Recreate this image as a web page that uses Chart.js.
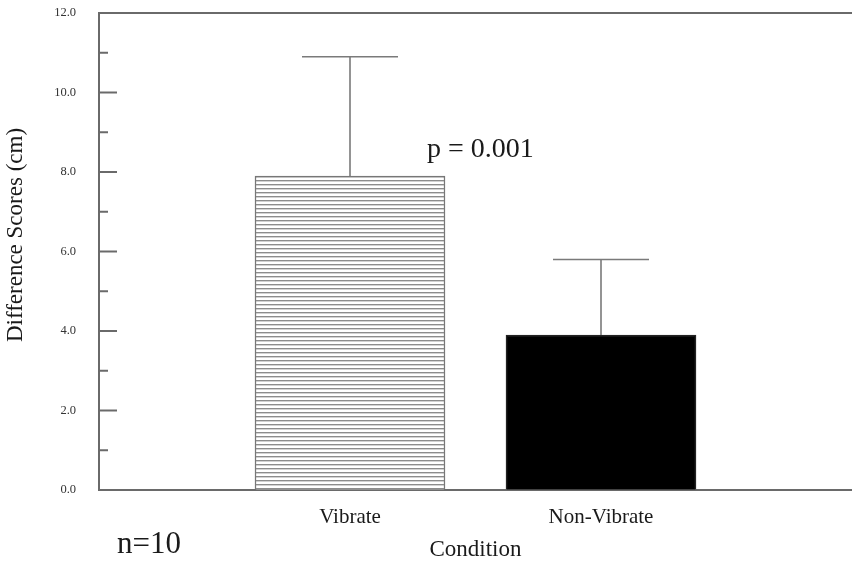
<!DOCTYPE html>
<html>
<head>
<meta charset="utf-8">
<script src="https://cdn.jsdelivr.net/npm/chart.js@4.4.1/dist/chart.umd.min.js"></script>
<style>
  html, body { margin: 0; padding: 0; background: #fff; overflow: hidden; }
  #wrap { width: 852px; height: 564px; position: relative; }
</style>
</head>
<body>
<div id="wrap"><canvas id="chart"></canvas></div>
<script>
// data (empty slots keep the bars where the original put them)
const conditions = ['', 'Vibrate', 'Non-Vibrate', ''];
const meanScores = [null, 7.9, 3.9, null];
const sdScores = [null, 3.0, 1.9, null];
const yMin = 0;
const yMax = 12;
const yStep = 1;
const sampleNote = 'n=10';
const pNote = 'p = 0.001';

const serif = "'Liberation Serif', 'Times New Roman', serif";
const axisGray = '#6a6a6a';
const ctxt = document.getElementById('chart').getContext('2d');

function makeHatch() {
    let tile = document.createElement('canvas');
    tile.width = 8;
    tile.height = 4;
    let g = tile.getContext('2d');
    g.fillStyle = '#ffffff';
    g.fillRect(0, 0, 8, 4);
    g.fillStyle = '#8c8c8c';
    g.fillRect(0, 0, 8, 1);
    g.fillStyle = '#d2d2d2';
    g.fillRect(0, 1, 8, 1);
    return ctxt.createPattern(tile, 'repeat');
}

function noEdgePadding(scale) {
    scale.paddingTop = 0;
    scale.paddingBottom = 0;
    scale.paddingLeft = 0;
    scale.paddingRight = 0;
}

const extras = {
    id: 'extras',
    afterDatasetsDraw(chart) {
        const ctx = chart.ctx;
        const xs = chart.scales.x;
        const ys = chart.scales.y;
        const area = chart.chartArea;
        ctx.save();

        // error bars, upper half only
        ctx.strokeStyle = '#7a7a7a';
        ctx.lineWidth = 1.6;
        meanScores.forEach((m, i) => {
            if (m === null) return;
            const x = xs.getPixelForValue(i);
            const yBar = ys.getPixelForValue(m);
            const yTop = ys.getPixelForValue(m + sdScores[i]);
            ctx.beginPath();
            ctx.moveTo(x, yBar);
            ctx.lineTo(x, yTop);
            ctx.moveTo(x - 48, yTop);
            ctx.lineTo(x + 48, yTop);
            ctx.stroke();
        });

        // inside tick marks, long on labelled values
        ctx.strokeStyle = axisGray;
        ctx.lineWidth = 2;
        ys.ticks.forEach((t) => {
            const y = ys.getPixelForValue(t.value);
            const len = t.value % 2 === 0 ? 18 : 9;
            ctx.beginPath();
            ctx.moveTo(area.left, y);
            ctx.lineTo(area.left + len, y);
            ctx.stroke();
        });

        // top frame line
        ctx.beginPath();
        ctx.moveTo(area.left, area.top);
        ctx.lineTo(chart.width, area.top);
        ctx.stroke();
        ctx.restore();
    },
    afterDraw(chart) {
        const ctx = chart.ctx;
        ctx.save();
        ctx.fillStyle = '#1a1a1a';
        ctx.textBaseline = 'alphabetic';

        ctx.font = '28px ' + serif;
        ctx.textAlign = 'left';
        ctx.fillText(pNote, 427, 157);

        ctx.font = '31px ' + serif;
        ctx.fillText(sampleNote, 117, 553);

        ctx.translate(16, 235);
        ctx.rotate(-Math.PI / 2);
        ctx.textAlign = 'center';
        ctx.textBaseline = 'middle';
        ctx.font = '23px ' + serif;
        ctx.fillText('Difference Scores (cm)', 0, 0);
        ctx.restore();
    }
};

const chart = new Chart(ctxt, {
    type: 'bar',
    data: {
        labels: conditions,
        datasets: [{
            data: meanScores,
            backgroundColor: [null, makeHatch(), '#000000', null],
            borderColor: ['#777', '#777', '#222', '#777'],
            borderWidth: 1.5,
            barThickness: 190
        }]
    },
    options: {
        responsive: true,
        maintainAspectRatio: false,
        animation: false,
        layout: { padding: { top: 13, right: -4, left: 0, bottom: 0 } },
        plugins: {
            legend: { display: false },
            tooltip: { enabled: false }
        },
        scales: {
            x: {
                offset: false,
                grid: { display: true, drawOnChartArea: false, drawTicks: false },
                border: { display: true, color: axisGray, width: 2 },
                ticks: {
                    color: '#1a1a1a',
                    font: { family: serif, size: 21 },
                    padding: 15,
                    maxRotation: 0,
                    autoSkip: false
                },
                title: {
                    display: true,
                    text: 'Condition',
                    color: '#1a1a1a',
                    font: { family: serif, size: 23 },
                    padding: 0
                },
                afterFit(scale) {
                    scale.height = 74;
                    noEdgePadding(scale);
                }
            },
            y: {
                min: yMin,
                max: yMax,
                grid: { display: true, drawOnChartArea: false, drawTicks: false },
                border: { display: true, color: axisGray, width: 2 },
                ticks: {
                    stepSize: yStep,
                    color: '#333',
                    font: { family: serif, size: 12.5 },
                    padding: 23,
                    callback: (v) => (v % 2 === 0 ? v.toFixed(1) : '')
                },
                afterFit(scale) {
                    scale.width = 99;
                    noEdgePadding(scale);
                }
            }
        }
    },
    plugins: [extras]
});
</script>
</body>
</html>
